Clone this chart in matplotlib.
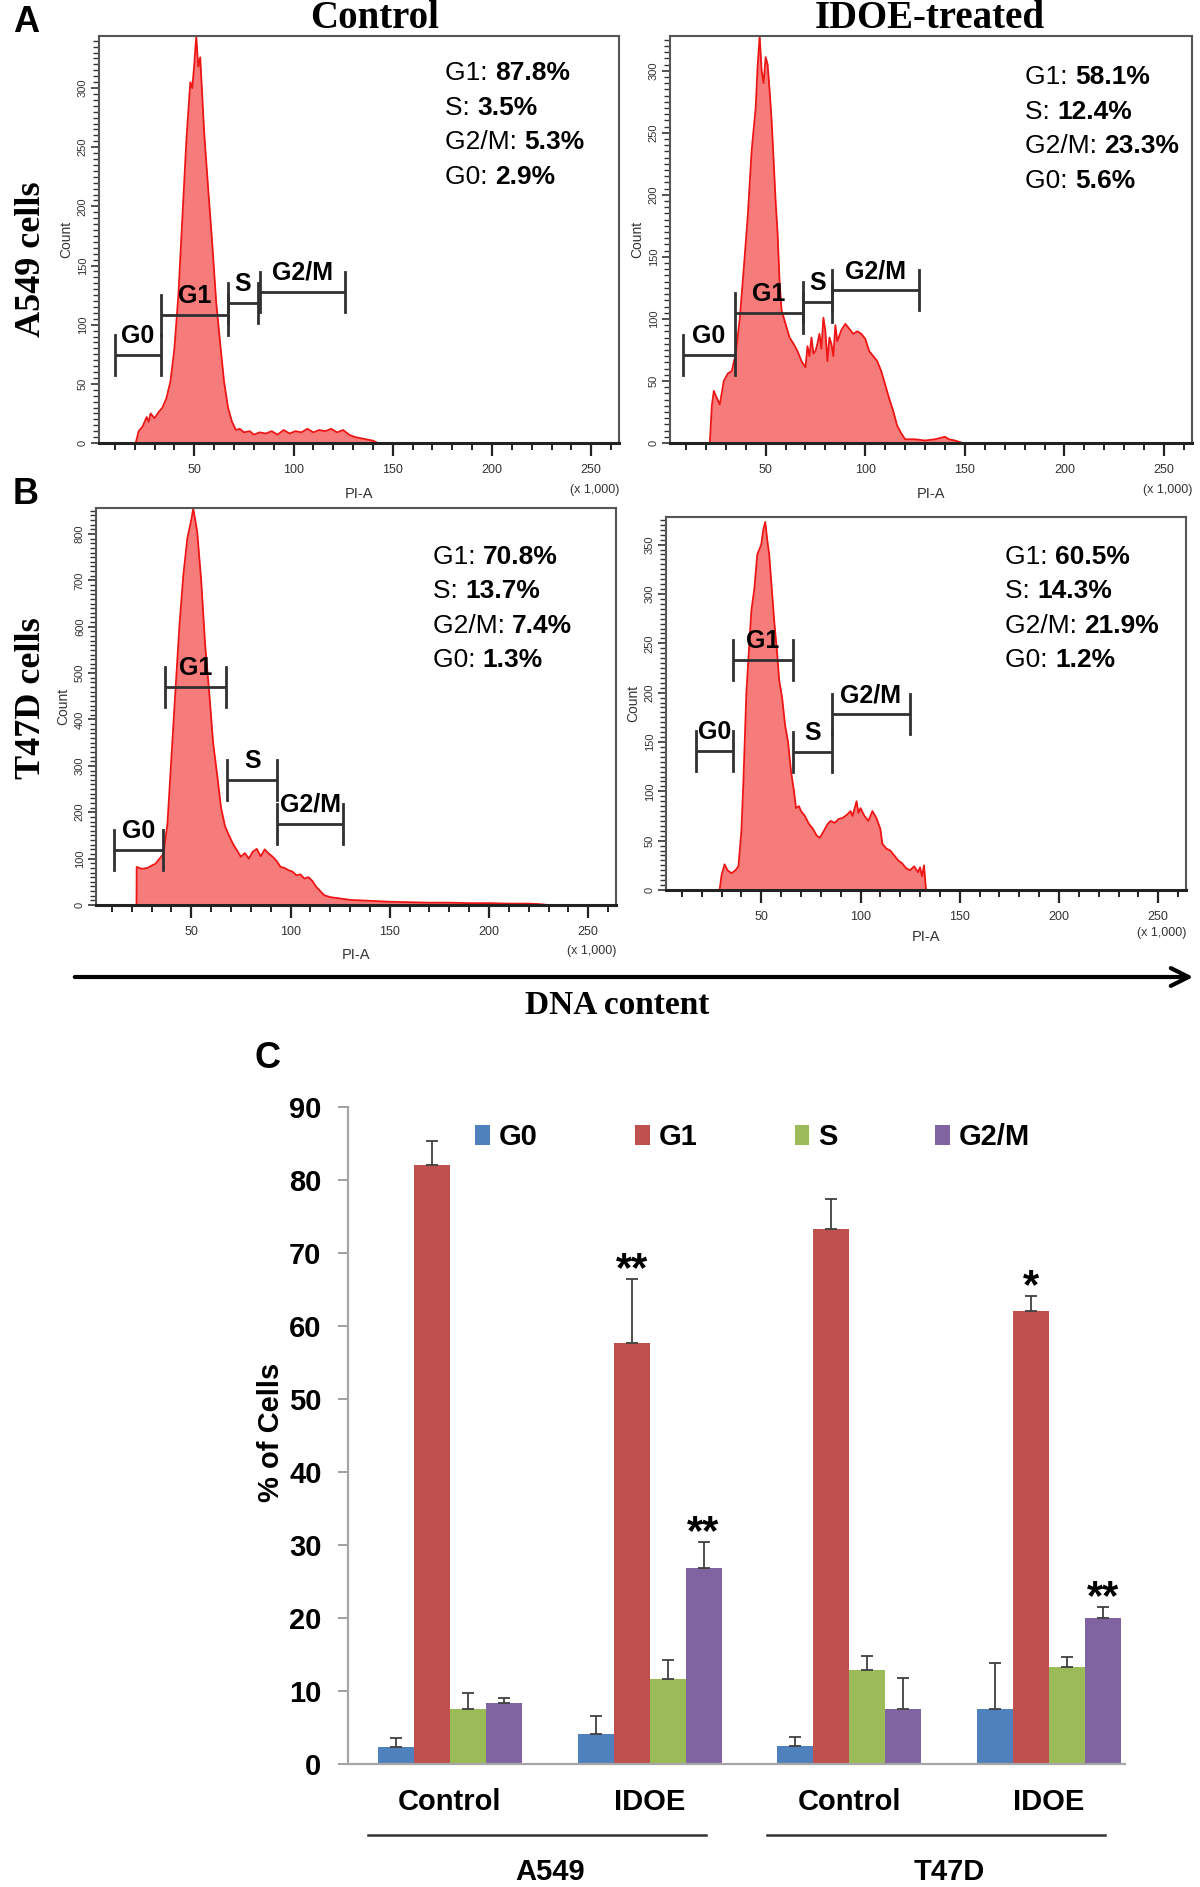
#!/usr/bin/env python3
"""
Cell cycle figure: PI-A histograms (A, B) and phase distribution bars (C)
"""

import matplotlib
matplotlib.use("Agg")
import matplotlib.pyplot as plt
import matplotlib.transforms as mtransforms
from matplotlib.ticker import MultipleLocator
import numpy as np

W, H = 1200, 1887

# ---------- histogram traces: PI-A (x1,000) vs count ----------
a549_ctrl_x = [20.5, 22, 24, 26, 27, 28, 30, 32, 34, 36, 38, 40, 42, 44, 46, 48, 49, 50, 51,
               52, 53, 55, 57, 59, 61, 63, 65, 67, 69, 71, 73, 75, 78, 80, 83, 86, 89, 92,
               95, 98, 101, 104, 107, 110, 113, 116, 119, 122, 125, 128, 131, 134, 137, 140, 142.5]
a549_ctrl_n = [0, 10, 14, 22, 18, 25, 21, 26, 30, 38, 52, 80, 125, 190, 255, 305, 300, 320, 344,
               318, 326, 262, 215, 170, 120, 85, 52, 30, 18, 11, 12, 9, 10, 7, 9, 8, 10, 7,
               11, 8, 10, 9, 12, 9, 11, 10, 12, 9, 11, 7, 5, 4, 3, 2, 0]

a549_idoe_x = [22, 23, 24, 25, 27, 29, 31, 33, 35, 37, 39, 41, 43, 45, 46, 47, 48, 49, 50, 51,
               52, 53, 54, 55, 56, 57, 58, 60, 62, 64, 66, 68, 70, 71, 72, 73, 74, 75, 76, 77,
               78, 79, 80, 81, 82, 83, 84, 85, 86, 88, 90, 92, 94, 96, 98, 100, 102, 104, 106,
               108, 110, 112, 114, 116, 118, 120, 125, 130, 135, 140, 142, 145, 149]
a549_idoe_n = [0, 30, 42, 38, 31, 50, 56, 58, 72, 100, 140, 182, 236, 270, 304, 328, 300, 290,
               311, 305, 284, 260, 228, 195, 169, 130, 107, 96, 85, 80, 74, 66, 61, 78, 70, 85,
               72, 74, 80, 88, 76, 101, 90, 66, 85, 80, 70, 95, 82, 91, 96, 92, 88, 90, 88, 84,
               74, 70, 66, 58, 47, 36, 26, 14, 8, 3, 3, 2, 3, 5, 3, 2, 0]

t47d_ctrl_x = [22.4, 22.5, 25, 28, 30, 32, 34, 36, 38, 40, 42, 44, 46, 48, 50, 51, 52, 53, 55,
               57, 59, 61, 63, 65, 67, 69, 71, 73, 75, 77, 79, 81, 83, 85, 87, 89, 91, 93, 95,
               97, 99, 101, 103, 105, 107, 109, 111, 113, 115, 117, 120, 125, 130, 140, 150,
               160, 170, 180, 190, 200, 210, 220, 225, 230]
t47d_ctrl_n = [0, 82, 78, 80, 85, 89, 100, 110, 175, 318, 460, 600, 711, 790, 830, 855, 830,
               804, 700, 560, 461, 350, 282, 210, 170, 150, 132, 118, 104, 112, 100, 115, 121,
               105, 120, 111, 104, 95, 82, 80, 75, 72, 64, 66, 57, 60, 52, 39, 30, 21, 17, 14,
               11, 9, 7, 6, 5, 5, 4, 4, 3, 3, 2, 0]

t47d_idoe_x = [29, 30, 31.5, 33, 35, 37, 38.5, 40, 41, 42.5, 44, 45, 46.5, 48, 50, 51, 52, 53,
               54, 55.5, 56.5, 58, 59, 60.5, 62, 63.5, 65, 66.5, 67.5, 69, 70, 72, 74, 76, 78,
               79.5, 81, 83.5, 85, 87, 89, 91, 93, 95, 96, 98, 99, 100, 102, 104, 106, 108,
               110, 111, 113, 115, 117, 119, 121, 123, 125, 127, 129, 130, 131, 132, 133]
t47d_idoe_n = [0, 15, 26, 20, 17, 20, 24, 60, 110, 200, 250, 283, 305, 340, 350, 365, 373, 355,
               340, 300, 273, 240, 213, 195, 167, 150, 120, 100, 83, 85, 80, 75, 67, 62, 55, 53,
               58, 67, 70, 68, 72, 73, 76, 80, 75, 90, 78, 83, 75, 70, 80, 73, 62, 47, 42, 40,
               35, 30, 27, 22, 20, 24, 18, 23, 14, 25, 0]

# gates (start, end, level in counts), order G0, G1, S, G2/M
gate_names = ['G0', 'G1', 'S', 'G2/M']
a549_ctrl_lo, a549_ctrl_hi, a549_ctrl_lvl = [10, 33, 67, 83], [33, 67, 82, 126], [74, 108, 118, 128]
a549_idoe_lo, a549_idoe_hi, a549_idoe_lvl = [8.5, 34.5, 68.6, 83.5], [34.5, 68.6, 83.5, 127], [71, 105, 114, 123]
t47d_ctrl_lo, t47d_ctrl_hi, t47d_ctrl_lvl = [11, 37, 68, 93.4], [36, 67.6, 93.4, 126.6], [118, 471, 269, 175]
t47d_idoe_lo, t47d_idoe_hi, t47d_idoe_lvl = [17, 36, 65.8, 85.7], [36, 65.8, 85.7, 124.8], [141, 233, 140, 178]

stat_names = ['G1', 'S', 'G2/M', 'G0']
a549_ctrl_pct = [87.8, 3.5, 5.3, 2.9]
a549_idoe_pct = [58.1, 12.4, 23.3, 5.6]
t47d_ctrl_pct = [70.8, 13.7, 7.4, 1.3]
t47d_idoe_pct = [60.5, 14.3, 21.9, 1.2]

# ---------- panel C ----------
groups = ['Control', 'IDOE', 'Control', 'IDOE']
cell_lines = ['A549', 'T47D']
phases = ['G0', 'G1', 'S', 'G2/M']
g0_mean = [2.3, 4.1, 2.4, 7.5]
g0_err = [1.3, 2.5, 1.3, 6.4]
g1_mean = [82.1, 57.7, 73.3, 62.0]
g1_err = [3.2, 8.7, 4.1, 2.1]
s_mean = [7.5, 11.6, 12.9, 13.3]
s_err = [2.2, 2.6, 1.9, 1.3]
g2m_mean = [8.4, 26.8, 7.6, 20.0]
g2m_err = [0.7, 3.6, 4.2, 1.5]
sig_group = [1, 1, 3, 3]
sig_phase = [1, 3, 1, 3]
sig_text = ['**', '**', '*', '**']

# ---------- style ----------
SANS = ['Liberation Sans', 'DejaVu Sans']
SERIF = ['Liberation Serif', 'DejaVu Serif']
HIST_FILL = '#F67B7B'
HIST_EDGE = '#EE1515'
GATE = '#303030'
BAR_COLORS = ['#4F81BD', '#C0504D', '#9BBB59', '#8064A2']

fig = plt.figure(figsize=(W / 100, H / 100), dpi=100)


def px_rect(l, t, r, b):
    return [l / W, 1 - b / H, (r - l) / W, (b - t) / H]


def draw_hist(box, x, n, ymax, major, minor, lo, hi, lvl, pct, sx, sy):
    l, t, r, b = box
    ax = fig.add_axes(px_rect(l, t, r, b))
    ax.fill_between(x, n, color=HIST_FILL, lw=0, zorder=1)
    ax.plot(x, n, color=HIST_EDGE, lw=1.3, zorder=2)
    ax.set_xlim(2, 264)
    ax.set_ylim(0, ymax)

    ax.xaxis.set_minor_locator(MultipleLocator(10))
    ax.yaxis.set_major_locator(MultipleLocator(major))
    ax.yaxis.set_minor_locator(MultipleLocator(minor))
    ax.set_xticks([50, 100, 150, 200, 250])
    ax.set_xticklabels(['50', '100', '150', '200', '250'], fontsize=9, color='#333', family=SANS)
    ax.tick_params(axis='x', which='major', length=9, width=1.6, direction='out', pad=6, color='#222')
    ax.tick_params(axis='x', which='minor', length=5, width=1.4, direction='out', color='#222')
    ax.tick_params(axis='y', which='major', length=6, width=1.2, direction='out', pad=2,
                   labelsize=8, labelcolor='#333', labelrotation=90, color='#333')
    ax.tick_params(axis='y', which='minor', length=4, width=1.0, direction='out', color='#333')
    for lab in ax.get_yticklabels():
        lab.set_family(SANS)
        lab.set_va('center')
    for side in ['left', 'top', 'right']:
        ax.spines[side].set_color('#555')
        ax.spines[side].set_linewidth(1.5)
    ax.spines['bottom'].set_color('#222')
    ax.spines['bottom'].set_linewidth(2.2)

    ax.set_ylabel('Count', fontsize=10, family=SANS, color='#333', labelpad=3)
    ax.text(0.5, -0.125, 'PI-A', transform=ax.transAxes, ha='center', va='center',
            fontsize=10.5, family=SANS, color='#333')
    ax.text(1.0, -0.115, '(x 1,000)', transform=ax.transAxes, ha='right', va='center',
            fontsize=9, family=SANS, color='#333')

    # gates
    hpx = (b - t)
    half = 20 / hpx * ymax
    lift = 19 / hpx * ymax
    for name, a, c, y in zip(gate_names, lo, hi, lvl):
        ax.plot([a, c], [y, y], color=GATE, lw=2, solid_capstyle='butt', zorder=3)
        ax.plot([a, a], [y - half, y + half], color=GATE, lw=2, zorder=3)
        ax.plot([c, c], [y - half, y + half], color=GATE, lw=2, zorder=3)
        ax.text((a + c) / 2, y + lift, name, ha='center', va='center', fontsize=18,
                fontweight='bold', family=SANS, zorder=4)

    # phase percentages
    for i, (nm, v) in enumerate(zip(stat_names, pct)):
        tr = ax.transAxes + mtransforms.ScaledTranslation(0, -i * 0.345, fig.dpi_scale_trans)
        txt = ax.text(sx, sy, nm + ': ', transform=tr, ha='left', va='center',
                      fontsize=19, family=SANS)
        ax.annotate(f'{v:.1f}%', xy=(1, 0), xycoords=txt, ha='left', va='bottom',
                    fontsize=19, fontweight='bold', family=SANS)
    return ax


draw_hist((99, 36, 619, 443), a549_ctrl_x, a549_ctrl_n, 344, 50, 5,
          a549_ctrl_lo, a549_ctrl_hi, a549_ctrl_lvl, a549_ctrl_pct, 0.665, 0.909)
draw_hist((670, 36, 1192, 443), a549_idoe_x, a549_idoe_n, 328, 50, 5,
          a549_idoe_lo, a549_idoe_hi, a549_idoe_lvl, a549_idoe_pct, 0.68, 0.899)
draw_hist((96, 508, 616, 905), t47d_ctrl_x, t47d_ctrl_n, 856, 100, 10,
          t47d_ctrl_lo, t47d_ctrl_hi, t47d_ctrl_lvl, t47d_ctrl_pct, 0.648, 0.877)
draw_hist((666, 517, 1186, 890), t47d_idoe_x, t47d_idoe_n, 378, 50, 5,
          t47d_idoe_lo, t47d_idoe_hi, t47d_idoe_lvl, t47d_idoe_pct, 0.652, 0.893)

# ---------- panel C bars ----------
axc = fig.add_axes(px_rect(348, 1107, 1125, 1764))
xc = np.arange(len(groups))
bw = 0.18
series = [(g0_mean, g0_err), (g1_mean, g1_err), (s_mean, s_err), (g2m_mean, g2m_err)]
tops = {}
for k, ((m, e), col, ph) in enumerate(zip(series, BAR_COLORS, phases)):
    pos = xc + (k - 1.5) * bw
    axc.bar(pos, m, bw, color=col, label=ph, zorder=2)
    axc.errorbar(pos, m, yerr=[np.zeros(len(m)), e], fmt='none', ecolor='#404040',
                 elinewidth=1.3, capsize=4, capthick=1.3, zorder=3)
    for g in range(len(groups)):
        tops[(g, k)] = (pos[g], m[g] + e[g])

for g, k, s in zip(sig_group, sig_phase, sig_text):
    px, top = tops[(g, k)]
    axc.text(px, top - 0.3, s, ha='center', va='baseline', fontsize=30,
             fontweight='bold', family=SANS)

axc.set_xlim(-0.51, 3.38)
axc.set_ylim(0, 90)
axc.set_yticks(range(0, 91, 10))
axc.set_xticks(xc)
axc.set_xticklabels(groups)
for lab in axc.get_xticklabels() + axc.get_yticklabels():
    lab.set_family(SANS)
    lab.set_fontweight('bold')
    lab.set_fontsize(21)
axc.tick_params(axis='x', length=0, pad=17)
axc.tick_params(axis='y', length=7, width=1.3, color='#999', pad=12)
for side in ['top', 'right']:
    axc.spines[side].set_visible(False)
for side in ['left', 'bottom']:
    axc.spines[side].set_color('#A6A6A6')
    axc.spines[side].set_linewidth(1.6)

# cell line brackets under the groups
for i, name in enumerate(cell_lines):
    g0, g1 = 2 * i, 2 * i + 1
    axc.plot([g0 - 0.41, g1 + 0.28], [-9.7, -9.7], color='#333', lw=1.8, clip_on=False)
    axc.text((g0 + g1) / 2, -14.8, name, ha='center', va='center', fontsize=21,
             fontweight='bold', family=SANS)

axc.legend(loc='center left', bbox_to_anchor=(475 / W, 1 - 1137 / H),
           bbox_transform=fig.transFigure, ncol=4, frameon=False, borderpad=0,
           borderaxespad=0, handlelength=0.5, handleheight=0.7, handletextpad=0.3,
           columnspacing=3.35, prop={'family': SANS, 'weight': 'bold', 'size': 21})

# ---------- figure-level text (pixel coordinates) ----------
ov = fig.add_axes([0, 0, 1, 1], facecolor='none')
ov.set_xlim(0, W)
ov.set_ylim(H, 0)
ov.axis('off')

ov.text(26, 22, 'A', ha='center', va='center', fontsize=26, fontweight='bold', family=SANS)
ov.text(26, 494, 'B', ha='center', va='center', fontsize=26, fontweight='bold', family=SANS)
ov.text(267, 1059, 'C', ha='center', va='center', fontsize=26, fontweight='bold', family=SANS)
ov.text(375, 18, 'Control', ha='center', va='center', fontsize=28, fontweight='bold', family=SERIF)
ov.text(930, 18, 'IDOE-treated', ha='center', va='center', fontsize=28, fontweight='bold', family=SERIF)
ov.text(32, 259, 'A549 cells', ha='center', va='center', rotation=90, fontsize=26,
        fontweight='bold', family=SERIF)
ov.text(32, 698, 'T47D cells', ha='center', va='center', rotation=90, fontsize=26,
        fontweight='bold', family=SERIF)
ov.annotate('', xy=(1196, 977), xytext=(72, 977),
            arrowprops=dict(arrowstyle='->', lw=3, color='black', mutation_scale=32))
ov.text(617, 1006, 'DNA content', ha='center', va='center', fontsize=24,
        fontweight='bold', family=SERIF)
ov.text(271, 1432, '% of Cells', ha='center', va='center', rotation=90, fontsize=21,
        fontweight='bold', family=SANS)

fig.savefig('out.png', dpi=100, facecolor='white')
